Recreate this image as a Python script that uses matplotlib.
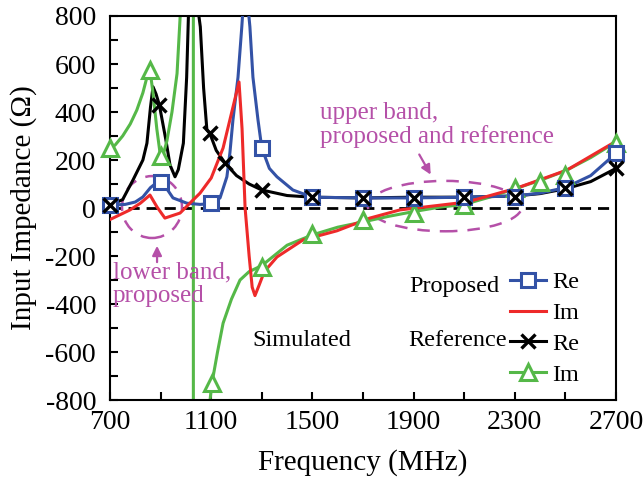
import matplotlib
matplotlib.use("Agg")
import matplotlib.pyplot as plt
from matplotlib.patches import Ellipse
from matplotlib.lines import Line2D

plt.rcParams['font.family'] = ['Liberation Serif', 'DejaVu Serif']
plt.rcParams['axes.unicode_minus'] = False

# proposed antenna, real part (blue)
prop_re_f = [700, 760, 800, 830, 860, 890, 915, 949, 1004, 1056, 1100, 1135, 1162, 1174, 1186,
             1206, 1221, 1230, 1240, 1253, 1265, 1285, 1300, 1330, 1360, 1423, 1500, 1700, 1900,
             2100, 2300, 2400, 2500, 2600, 2700]
prop_re_v = [12, 15, 25, 46, 85, 110, 95, 42, 20, 15, 18, 42, 130, 230, 367,
             545, 755, 900, 900, 755, 545, 367, 250, 165, 130, 75, 45, 42, 42,
             45, 50, 62, 85, 135, 228]
prop_re_mf = [700, 900, 1100, 1300, 1500, 1700, 1900, 2100, 2300, 2500, 2700]
prop_re_mv = [12, 110, 20, 250, 45, 42, 42, 46, 46, 83, 229]

# proposed antenna, imaginary part (red)
prop_im_f = [700, 779, 820, 858, 886, 917, 977, 1028, 1056, 1100, 1147, 1186, 1210, 1222,
             1234, 1250, 1262, 1273, 1290, 1310, 1360, 1463, 1597, 1727, 1846, 2111, 2308,
             2506, 2700]
prop_im_v = [-48, -8, 20, 54, 4, -42, -21, 33, 62, 125, 250, 420, 525, 330,
             0, -200, -330, -365, -320, -265, -204, -133, -95, -42, -8, 25, 83,
             158, 278]

# reference antenna, real part (black)
ref_re_f = [700, 750, 791, 830, 846, 860, 870, 882, 895, 921, 937, 957, 970, 990, 1003, 1010,
            1025, 1045, 1057, 1070, 1083, 1095, 1120, 1155, 1200, 1250, 1300, 1400, 1500,
            1700, 1900, 2100, 2300, 2400, 2500, 2600, 2700]
ref_re_v = [12, 35, 117, 200, 270, 420, 505, 475, 430, 283, 180, 130, 160, 270, 545, 800,
            2500, 850, 755, 500, 325, 310, 240, 187, 135, 100, 75, 52, 45,
            42, 45, 45, 50, 60, 80, 110, 165]
ref_re_mf = [700, 895, 1095, 1155, 1300, 1500, 1700, 1900, 2100, 2300, 2500, 2700]
ref_re_mv = [12, 430, 312, 187, 75, 45, 42, 42, 46, 46, 83, 165]

# reference antenna, imaginary part (green)
ref_im_f = [700, 720, 750, 780, 806, 830, 846, 858, 870, 885, 900, 905, 925, 945, 965, 980, 1000,
            1029, 1030, 1070, 1090, 1103, 1125, 1147, 1180, 1214, 1250, 1300, 1400, 1500,
            1600, 1700, 1800, 1900, 2000, 2100, 2200, 2300, 2400, 2500, 2600, 2700]
ref_im_v = [250, 262, 300, 350, 408, 480, 545, 575, 480, 330, 212, 200, 280, 400, 560, 850, 1500,
            10000, -10000, -1500, -850, -730, -600, -480, -380, -300, -265, -240, -155, -112,
            -80, -58, -35, -15, 3, 15, 45, 80, 115, 155, 210, 275]
ref_im_mf = [700, 858, 900, 1103, 1300, 1500, 1700, 1900, 2100, 2300, 2400, 2500, 2700]
ref_im_mv = [250, 575, 215, -730, -245, -108, -52, -22, 12, 83, 110, 137, 270]

blue = '#3352a6'
red = '#ee2a2a'
green = '#55b848'
mag = '#b550a8'

fig = plt.figure(figsize=(6.44, 4.79), dpi=100)
ax = fig.add_axes([0.1708, 0.1649, 0.7857, 0.8017])

lw = 2.2
ax.axhline(0, color='black', lw=2, ls=(0, (4, 2.5)), zorder=1)
ax.plot(ref_re_f, ref_re_v, color='black', lw=lw, zorder=2)
ax.plot(ref_im_f, ref_im_v, color=green, lw=lw, zorder=2)
ax.plot(prop_re_f, prop_re_v, color=blue, lw=lw, zorder=3)
ax.plot(prop_im_f, prop_im_v, color=red, lw=lw, zorder=4)

ax.plot(ref_im_mf, ref_im_mv, ls='none', marker='^', ms=11, mfc='white', mec=green, mew=2.2, zorder=5, clip_on=False)
ax.plot(prop_re_mf, prop_re_mv, ls='none', marker='s', ms=10, mfc='white', mec=blue, mew=2.2, zorder=6, clip_on=False)
ax.plot(ref_re_mf, ref_re_mv, ls='none', marker='x', ms=10, mec='black', mew=2.4, zorder=7, clip_on=False)

ax.set_xlim(700, 2700)
ax.set_ylim(-800, 800)
ax.set_xticks(range(700, 2701, 400))
ax.set_xticks(range(700, 2701, 200), minor=True)
ax.set_yticks(range(-800, 801, 200))
ax.set_yticks(range(-800, 801, 100), minor=True)
ax.tick_params(which='both', direction='in', top=False, right=False, labelsize=20, width=1.5)
ax.tick_params(which='major', length=6, pad=7)
ax.tick_params(which='minor', length=6)
ax.tick_params(axis='y', which='major', pad=10)
for s in ax.spines.values():
    s.set_linewidth(1.5)

ax.set_xlabel('Frequency (MHz)', fontsize=21, labelpad=10)
ax.set_ylabel('Input Impedance (Ω)', fontsize=21, labelpad=6)

# annotations
ax.add_patch(Ellipse((866, 4), 237, 258, fill=False, ec=mag, lw=1.8, ls=(0, (5, 4)), zorder=1))
ax.add_patch(Ellipse((2024, 8), 610, 210, fill=False, ec=mag, lw=1.8, ls=(0, (5, 4)), zorder=1))
ax.annotate('', xy=(886, -146), xytext=(886, -237),
            arrowprops=dict(arrowstyle='-|>', color=mag, lw=1.6, mutation_scale=14))
ax.annotate('', xy=(1973, 129), xytext=(1917, 233),
            arrowprops=dict(arrowstyle='-|>', color=mag, lw=1.6, mutation_scale=14))
ax.text(712, -318, 'lower band,\nproposed', color=mag, fontsize=18, va='center', ha='left', linespacing=1.1)
ax.text(1530, 346, 'upper band,\nproposed and reference', color=mag, fontsize=18, va='center', ha='left', linespacing=1.1)

ax.text(1262, -550, 'Simulated', fontsize=17.5, va='center', ha='left')
ax.text(1884, -325, 'Proposed', fontsize=17.5, va='center', ha='left')
ax.text(1880, -550, 'Reference', fontsize=17.5, va='center', ha='left')

handles = [
    Line2D([], [], color=blue, lw=lw, marker='s', ms=10, mfc='white', mec=blue, mew=2.2),
    Line2D([], [], color=red, lw=lw),
    Line2D([], [], color='black', lw=lw, marker='x', ms=10, mec='black', mew=2.4),
    Line2D([], [], color=green, lw=lw, marker='^', ms=11, mfc='white', mec=green, mew=2.2),
]
ax.legend(handles, ['Re', 'Im', 'Re', 'Im'], loc='upper left', bbox_to_anchor=(0.79, 0.335),
          frameon=False, fontsize=17.5, handlelength=1.5, handletextpad=0.25,
          labelspacing=0.36, borderpad=0, borderaxespad=0)

fig.savefig('out.png', dpi=100)
